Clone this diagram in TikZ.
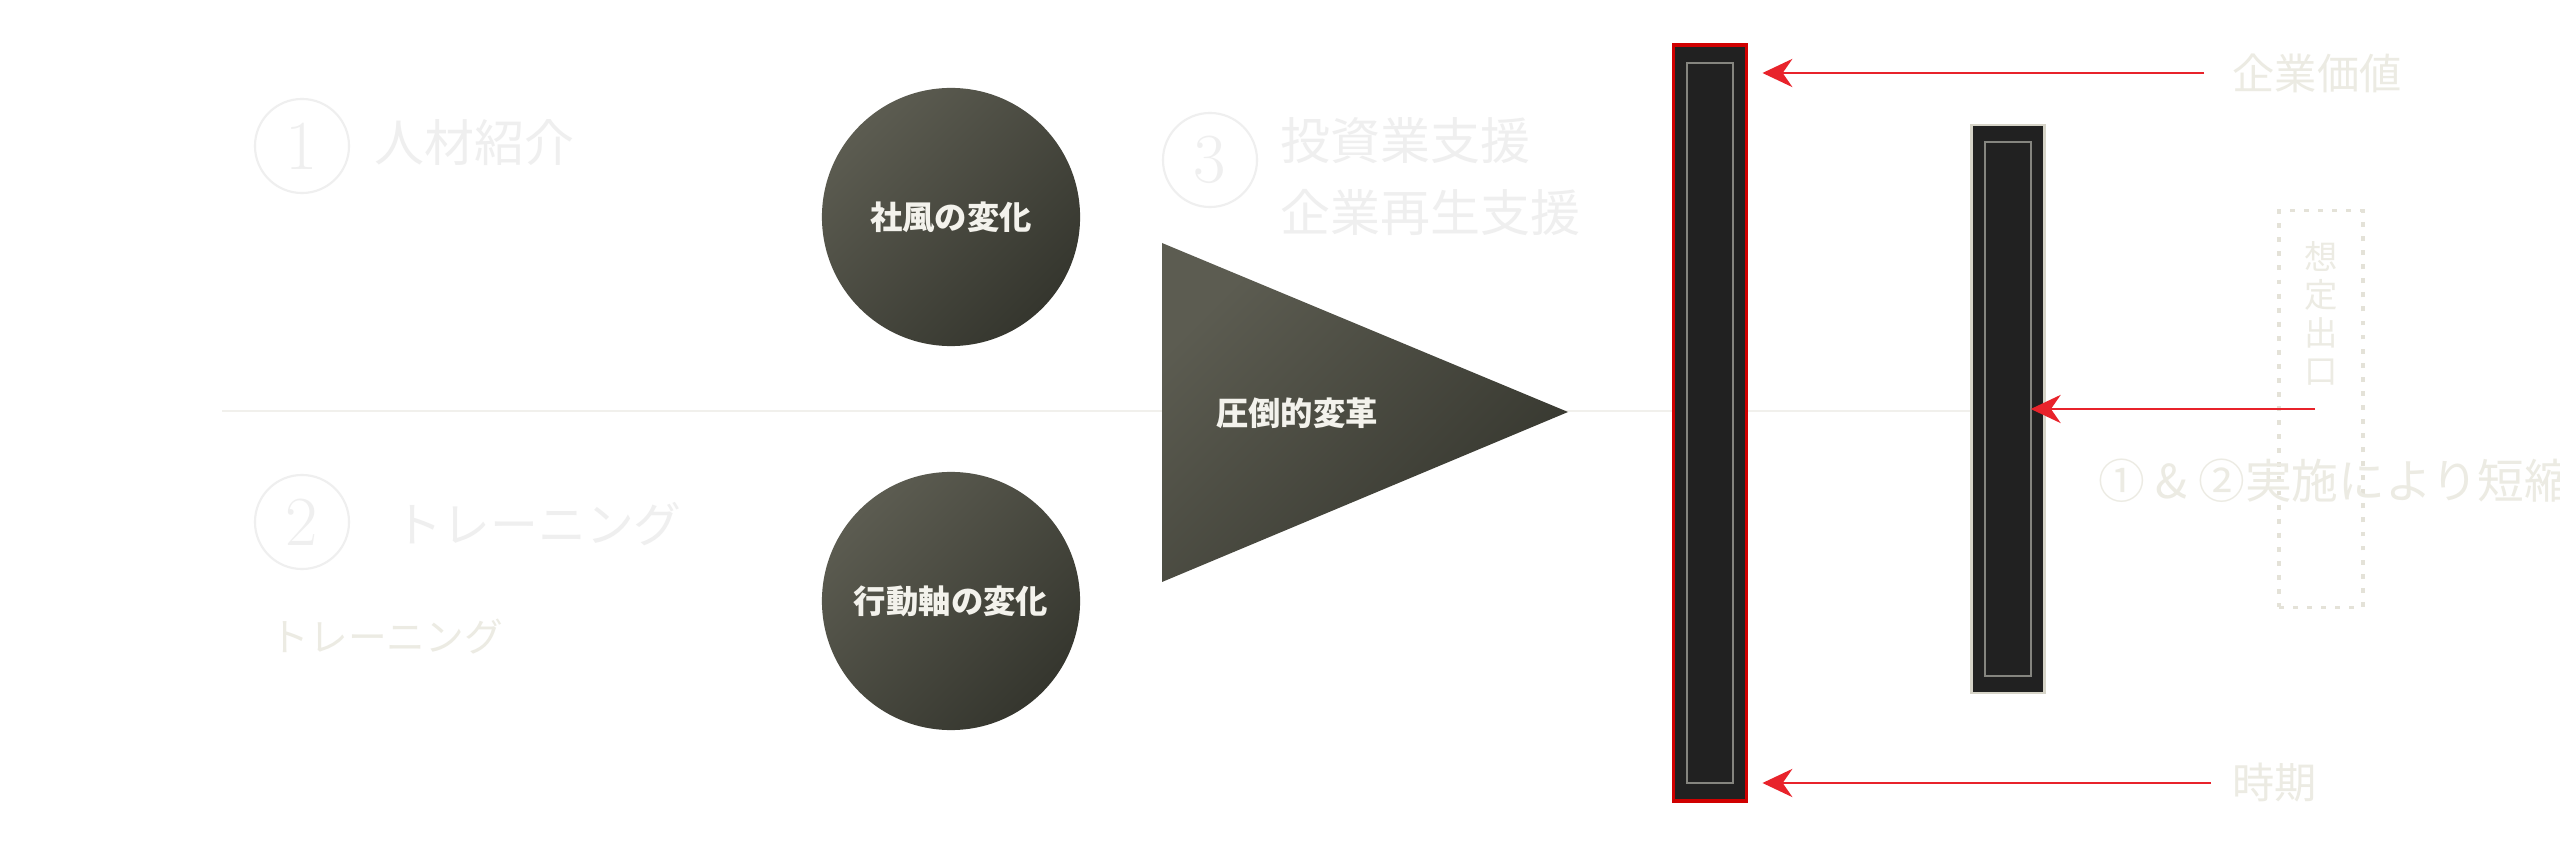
\documentclass[tikz,border=0pt]{standalone}
\usepackage{fontspec}
\usepackage{tikz}
\usetikzlibrary{arrows.meta}
\newfontfamily\jp{Noto Sans CJK JP}
\definecolor{ghostGray}{HTML}{EFEFEF}
\definecolor{ghostBeige}{HTML}{ECEBE3}
\definecolor{dotBeige}{HTML}{E4E2D8}
\definecolor{discLight}{HTML}{5C5C51}
\definecolor{discDark}{HTML}{35362E}
\definecolor{discText}{HTML}{F3F2EC}
\definecolor{barFill}{HTML}{212121}
\definecolor{barRed}{HTML}{D00000}
\definecolor{barBeige}{HTML}{D6D4C8}
\definecolor{barInner}{HTML}{85857F}
\definecolor{arrowRed}{HTML}{E8232B}
\definecolor{axisGray}{HTML}{F1F0EC}
\tikzset{
    ghostnum/.style={circle, draw=ghostGray, line width=0.6pt, minimum size=0.94cm, inner sep=0pt, text=ghostGray, font=\fontsize{20}{20}\selectfont},
    ghosttext/.style={anchor=west, inner sep=0pt, text=ghostGray, font=\jp\fontsize{14.2}{20.5}\selectfont, align=left},
    beigetext/.style={anchor=west, inner sep=0pt, text=ghostBeige, font=\jp\fontsize{12}{14}\selectfont},
    darkdisc/.style={circle, minimum size=2.58cm, inner sep=0pt, top color=discLight, bottom color=discDark, shading angle=45, text=discText, font=\jp\bfseries\fontsize{9.2}{11}\selectfont},
    outerbar/.style={rectangle, fill=barFill, minimum width=0.73cm, inner sep=0pt},
    innerbar/.style={rectangle, draw=barInner, line width=0.5pt, minimum width=0.46cm, inner sep=0pt},
    redarrow/.style={-{Stealth[length=8.5pt, width=8pt]}, draw=arrowRed, line width=0.75pt}
}
\begin{document}
\begin{tikzpicture}[x=0.01cm, y=-0.01cm]
    \fill[white] (0,0) rectangle (2560,858);
    \useasboundingbox (0,0) rectangle (2560,858);

    % faint axis
    \coordinate (axisStart) at (222,411);
    \node[outerbar, draw=barBeige, line width=0.7pt, minimum height=5.68cm] (smallBar) at (2008,409) {};
    \draw[axisGray, line width=0.6pt] (axisStart) -- (axisStart -| smallBar.west);

    % left column
    \node[ghostnum] (numOne) at (302,146) {1};
    \node[ghosttext] (talent) at (374,143) {人材紹介};
    \node[ghostnum] (numTwo) at (302,522) {2};
    \node[ghosttext, font=\jp\fontsize{13.6}{16}\selectfont] (training) at (394,524) {トレーニング};
    \node[beigetext, font=\jp\fontsize{11}{13}\selectfont] (trainingSub) at (270,637) {トレーニング};
    \node[ghostnum] (numThree) at (1210,160) {3};
    \node[ghosttext] (invest) at (1280,177) {投資業支援\\企業再生支援};

    % discs and triangle
    \node[darkdisc] (culture) at (951,217) {社風の変化};
    \node[darkdisc] (behavior) at (951,601) {行動軸の変化};
    \shade[top color=discLight, bottom color=discDark, shading angle=45]
        (1162,243) -- (1568,412) -- (1162,582) -- cycle;
    \node[text=discText, font=\jp\bfseries\fontsize{9.2}{11}\selectfont, inner sep=0pt] (reform) at (1297,413) {圧倒的変革};

    % bars
    \node[outerbar, draw=barRed, line width=1.1pt, minimum height=7.56cm] (bigBar) at (1710,423) {};
    \node[innerbar, minimum height=7.2cm] (bigInner) at (1710,423) {};
    \node[innerbar, minimum height=5.34cm] (smallInner) at (2008,409) {};

    % right labels
    \node[beigetext] (valueLbl) at (2232,73) {企業価値};
    \node[beigetext] (timeLbl) at (2232,783) {時期};
    \node[rectangle, draw=dotBeige, line width=0.9pt, dash pattern=on 1.4pt off 2.6pt, minimum width=0.84cm, minimum height=3.96cm, inner sep=0pt] (exitBox) at (2321,409) {};
    \node[beigetext, anchor=center, align=center, font=\jp\fontsize{9.5}{10.8}\selectfont] (exitLbl) at (2321,313) {想\\定\\出\\口};
    \node[beigetext, font=\jp\fontsize{13.3}{16}\selectfont] (shortLbl) at (2098,481) {① \& ②実施により短縮};

    % arrows
    \draw[redarrow, shorten <=0.28cm, shorten >=0.14cm] (valueLbl.west) -- (bigBar.east |- valueLbl.west);
    \draw[redarrow, shorten <=0.21cm, shorten >=0.14cm] (timeLbl.west) -- (bigBar.east |- timeLbl.west);
    \draw[redarrow, shorten <=0.06cm, shorten >=-0.15cm] (exitBox.center) -- (exitBox.center -| smallBar.east);
\end{tikzpicture}
\end{document}
